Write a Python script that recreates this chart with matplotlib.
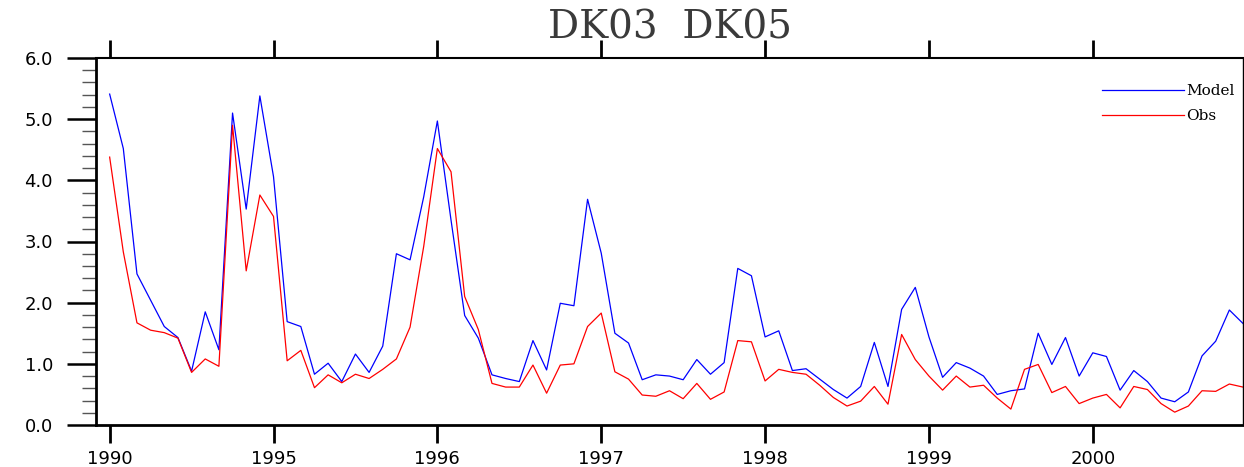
import matplotlib
matplotlib.use("Agg")
import matplotlib.pyplot as plt
from matplotlib.ticker import MultipleLocator, FormatStrFormatter

# ---- data (monthly values) ----
model = [5.41, 4.52, 2.47, 2.04, 1.61, 1.43, 0.88, 1.85, 1.23, 5.10, 3.53, 5.38, 4.06, 1.69,
         1.61, 0.83, 1.01, 0.71, 1.16, 0.86, 1.29, 2.80, 2.70, 3.73, 4.97, 3.35, 1.79, 1.42,
         0.82, 0.76, 0.71, 1.38, 0.90, 1.99, 1.95, 3.69, 2.81, 1.50, 1.34, 0.74, 0.82, 0.80,
         0.74, 1.07, 0.83, 1.02, 2.56, 2.44, 1.44, 1.54, 0.89, 0.92, 0.75, 0.58, 0.44, 0.63,
         1.35, 0.63, 1.89, 2.25, 1.44, 0.78, 1.02, 0.93, 0.80, 0.50, 0.56, 0.59, 1.50, 0.99,
         1.43, 0.80, 1.18, 1.12, 0.57, 0.89, 0.71, 0.44, 0.38, 0.54, 1.13, 1.37, 1.88, 1.66]
obs = [4.38, 2.83, 1.67, 1.55, 1.51, 1.42, 0.86, 1.08, 0.96, 4.90, 2.52, 3.76, 3.41, 1.05,
       1.22, 0.61, 0.82, 0.69, 0.83, 0.76, 0.91, 1.08, 1.60, 2.92, 4.52, 4.14, 2.10, 1.56,
       0.68, 0.62, 0.62, 0.98, 0.52, 0.98, 1.00, 1.61, 1.83, 0.87, 0.75, 0.49, 0.47, 0.56,
       0.43, 0.68, 0.42, 0.54, 1.38, 1.36, 0.72, 0.91, 0.86, 0.83, 0.65, 0.45, 0.31, 0.39,
       0.63, 0.34, 1.48, 1.07, 0.80, 0.57, 0.80, 0.62, 0.65, 0.44, 0.26, 0.91, 0.99, 0.53,
       0.63, 0.35, 0.44, 0.50, 0.28, 0.63, 0.58, 0.35, 0.21, 0.31, 0.56, 0.55, 0.67, 0.62]
months = list(range(len(model)))
xtick_pos = [0, 12, 24, 36, 48, 60, 72]
xtick_labels = ['1990', '1995', '1996', '1997', '1998', '1999', '2000']
series_labels = ['Model', 'Obs']
title = 'DK03  DK05'

W, H = 1244, 467
fig = plt.figure(figsize=(W / 100, H / 100), dpi=100)
ax = fig.add_axes([96 / W, 42 / H, (1243 - 96) / W, (425 - 58) / H])

ax.plot(months, model, color=(0, 0, 1), lw=0.9, label=series_labels[0])
ax.plot(months, obs, color=(1, 0, 0), lw=0.9, label=series_labels[1])

ax.set_xlim(-1, 83)
ax.set_ylim(0, 6)

# spines
ax.spines['left'].set_linewidth(2.0)
ax.spines['bottom'].set_linewidth(2.0)
ax.spines['top'].set_linewidth(1.5)
ax.spines['right'].set_linewidth(1.0)

# y ticks
ax.yaxis.set_major_locator(MultipleLocator(1.0))
ax.yaxis.set_minor_locator(MultipleLocator(0.2))
ax.yaxis.set_major_formatter(FormatStrFormatter('%.1f'))
ax.tick_params(axis='y', which='major', direction='out', length=21, width=1.8,
               pad=10, labelsize=13, left=True, right=False)
ax.tick_params(axis='y', which='minor', direction='out', length=10, width=1.0,
               color='#555555', left=True, right=False)

# x ticks (bottom and top, outward)
ax.set_xticks(xtick_pos)
ax.set_xticklabels(xtick_labels)
ax.tick_params(axis='x', which='major', direction='out', length=13, width=2.0,
               pad=5, labelsize=13, top=True, bottom=True, labeltop=False)
ax.tick_params(axis='x', which='minor', bottom=False, top=False)

for lab in ax.get_yticklabels() + ax.get_xticklabels():
    lab.set_fontfamily('DejaVu Sans')

leg = ax.legend(loc='upper left', bbox_to_anchor=(0.877, 0.928), frameon=False,
                prop={'family': 'DejaVu Serif', 'size': 11},
                handlelength=5.4, handletextpad=0.1, labelspacing=0.7,
                borderpad=0, borderaxespad=0)
for line in leg.get_lines():
    line.set_linewidth(0.9)

fig.text(669.5 / W, 1 - 28 / H, title, ha='center', va='center',
         fontsize=28, fontfamily='DejaVu Serif', fontweight='light', color='#3a3a3a')

fig.savefig('out.png', dpi=100)
